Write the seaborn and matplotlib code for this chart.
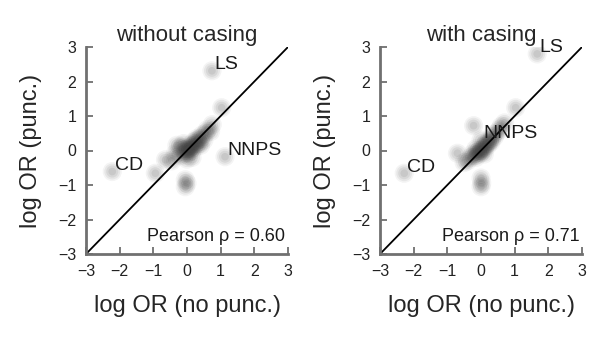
import numpy as np
import pandas as pd
import matplotlib
matplotlib.use("Agg")
import matplotlib.pyplot as plt
import seaborn as sns

# log odds ratios (x: no punc., y: punc.)
x_nocase = [-0.45, -0.35, -0.3, -0.2, -0.15, -0.1, -0.05, 0.0, 0.05, 0.1, 0.15, 0.2,
            0.25, 0.3, 0.35, 0.45, 0.5, 0.6, 0.7, 0.75, 0.15, 0.0, -0.2, 0.4,
            0.0, 0.05, -0.05, 0.1, 0.2, 0.3, 0.12, 0.25, 0.4, 0.55,
            -0.94, -0.64, -0.05, -0.05, 0.0, 1.03, 0.74, -2.22, 1.13]
y_nocase = [-0.3, -0.1, 0.15, -0.15, 0.05, 0.2, -0.1, 0.05, -0.05, 0.15, 0.0, 0.25,
            0.1, 0.35, 0.2, 0.45, 0.3, 0.6, 0.55, 0.75, -0.2, -0.25, 0.1, 0.15,
            0.0, 0.05, -0.05, 0.1, 0.15, 0.3, 0.05, 0.2, 0.35, 0.5,
            -0.66, -0.27, -0.85, -1.05, -0.95, 1.24, 2.31, -0.61, -0.18]

x_case = [-0.5, -0.4, -0.3, -0.25, -0.2, -0.1, -0.05, 0.0, 0.05, 0.1, 0.15, 0.2,
          0.25, 0.3, 0.4, 0.45, 0.55, 0.6, 0.7, 0.1, -0.15, 0.35,
          -0.15, -0.05, 0.0, 0.1, 0.2, 0.3,
          -0.7, -0.22, 0.0, 0.0, 0.02, 1.03, 1.67, -2.28, 0.0]
y_case = [-0.35, -0.3, -0.2, -0.1, -0.15, -0.05, 0.0, -0.05, 0.1, 0.05, 0.2, 0.15,
          0.3, 0.25, 0.4, 0.5, 0.6, 0.7, 0.8, -0.1, 0.05, 0.45,
          -0.2, -0.1, 0.0, 0.1, 0.2, 0.3,
          -0.08, 0.72, -0.8, -1.05, -0.95, 1.24, 2.8, -0.66, 0.3]

labels_nocase = {"LS": (0.74, 2.31), "CD": (-2.22, -0.61), "NNPS": (1.13, -0.18)}
labels_case = {"LS": (1.67, 2.8), "CD": (-2.28, -0.66), "NNPS": (0.0, 0.3)}

panels = [("without casing", x_nocase, y_nocase, labels_nocase, 0.60),
          ("with casing", x_case, y_case, labels_case, 0.71)]
ticks = [-3, -2, -1, 0, 1, 2, 3]

sns.set_style("ticks")
plt.rcParams["font.family"] = ["Liberation Sans", "DejaVu Sans"]

fig = plt.figure(figsize=(6.08, 3.39), dpi=100)
lefts = [86 / 608, 380 / 608]

for (title, xs, ys, labs, rho), left in zip(panels, lefts):
    ax = fig.add_axes([left, 85 / 339, 202 / 608, 207 / 339])
    df = pd.DataFrame({"x": xs, "y": ys})
    # soft blurry dots: stack a few sizes with low alpha
    for size, a in [(190, 0.06), (130, 0.08), (75, 0.09), (30, 0.1)]:
        sns.scatterplot(data=df, x="x", y="y", ax=ax, s=size, color="#444444",
                        alpha=a, edgecolor="none", legend=False)
    ax.plot([-3, 3], [-3, 3], color="black", lw=1.3)
    for name, (px, py) in labs.items():
        ax.text(px + 0.07, py + 0.18, name, fontsize=14, ha="left", va="center",
                color="#1a1a1a")
    ax.text(2.92, -2.48, "Pearson ρ = %.2f" % rho, fontsize=13, ha="right",
            va="center", color="#1a1a1a")
    ax.set_xlim(-3, 3)
    ax.set_ylim(-3, 3)
    ax.set_xticks(ticks)
    ax.set_yticks(ticks)
    ax.set_xlabel("log OR (no punc.)", fontsize=17)
    ax.set_ylabel("log OR (punc.)", fontsize=17)
    ax.xaxis.set_label_coords(0.5, -0.2)
    ax.yaxis.set_label_coords(-0.22, 0.5)
    ax.set_title(title, fontsize=16, pad=4)
    for s in ["top", "right"]:
        ax.spines[s].set_visible(False)
    for s in ["left", "bottom"]:
        ax.spines[s].set_color("#707070")
        ax.spines[s].set_linewidth(2)
    ax.tick_params(direction="in", colors="#707070", labelcolor="#222222",
                   labelsize=11.5, length=5, width=1.3, pad=7)

fig.savefig("out.png", dpi=100)
